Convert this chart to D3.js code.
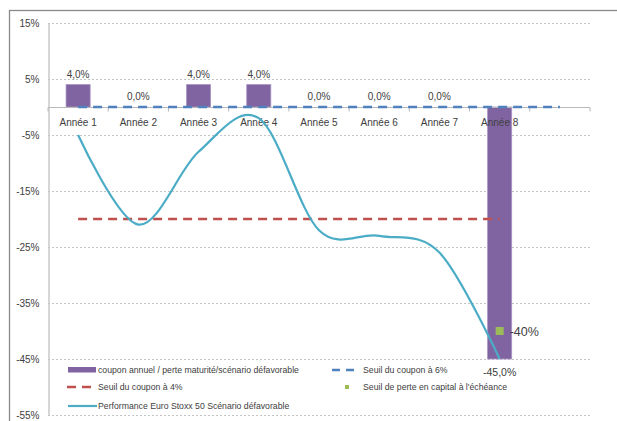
<!DOCTYPE html>
<html>
<head>
<meta charset="utf-8">
<script src="https://cdn.jsdelivr.net/npm/d3@7"></script>
<style>
  body { margin: 0; background: #fff; }
  svg text { font-family: "Liberation Sans", Arial, sans-serif; fill: #404040; }
</style>
</head>
<body>
<div id="chart"></div>
<script>
// categories (the 9th slot is empty in the original chart)
const categories = ["Année 1", "Année 2", "Année 3", "Année 4", "Année 5", "Année 6", "Année 7", "Année 8", ""];
const couponValues = [0.04, 0, 0.04, 0.04, 0, 0, 0, -0.45];
const seuil6Values = [0, 0, 0, 0, 0, 0, 0, 0, 0];
const seuil4Values = [-0.2, -0.2, -0.2, -0.2, -0.2, -0.2, -0.2, -0.2];
const perfValues = [-0.05, -0.21, -0.08, -0.02, -0.22, -0.23, -0.26, -0.45];
const perteValues = [null, null, null, null, null, null, null, -0.40];
const yTicks = [0.15, 0.05, -0.05, -0.15, -0.25, -0.35, -0.45, -0.55];
const legendNames = [
  "coupon annuel / perte maturité/scénario défavorable",
  "Seuil du coupon à 6%",
  "Seuil du coupon à 4%",
  "Seuil de perte en capital à l'échéance",
  "Performance Euro Stoxx 50 Scénario défavorable"
];

const fr = d3.formatLocale({decimal: ",", thousands: " ", grouping: [3], currency: ["", " €"], minus: "-"});
const pct0 = fr.format(".0%");
const pct1 = fr.format(".1%");

const W = 617, H = 421;
const svg = d3.select("#chart").append("svg")
    .attr("width", W)
    .attr("height", H);

// outer chart border (right/bottom edges fall outside the picture)
svg.append("rect")
    .attr("x", 9.5).attr("y", 10.5)
    .attr("width", 640).attr("height", 440)
    .attr("fill", "none")
    .attr("stroke", "#8a8a8a")
    .attr("stroke-width", 1.3);

const x = d3.scaleBand()
    .domain(d3.range(categories.length))
    .range([48, 590])
    .padding(0);
const bw = x.bandwidth();
const cx = i => x(i) + bw / 2;

const y = d3.scaleLinear()
    .domain([-0.55, 0.15])
    .range([415, 23]);

// gridlines
svg.append("g")
    .selectAll("line")
    .data(yTicks)
    .join("line")
    .attr("x1", 48).attr("x2", 590)
    .attr("y1", d => Math.round(y(d)) + 0.5)
    .attr("y2", d => Math.round(y(d)) + 0.5)
    .attr("stroke", "#c4c4c4")
    .attr("stroke-dasharray", "2,2");

// y axis
const yAxis = svg.append("g")
    .attr("transform", "translate(48.5,0)")
    .call(d3.axisLeft(y).tickValues(yTicks).tickFormat(pct0).tickSize(0).tickPadding(9));
yAxis.select(".domain").attr("stroke", "#c8c8c8").attr("stroke-width", 1.5);
yAxis.selectAll("text").style("font-size", "10px").attr("fill", "#404040");

// bars
svg.append("g")
    .selectAll("rect")
    .data(couponValues)
    .join("rect")
    .attr("x", (d, i) => x(i) + bw * 0.3)
    .attr("width", bw * 0.4)
    .attr("y", d => y(Math.max(0, d)))
    .attr("height", d => Math.abs(y(d) - y(0)))
    .attr("fill", "#8064A2")
    .attr("stroke", "#a995c4")
    .attr("stroke-width", 0.8);

// x axis at 0
const xAxis = svg.append("g")
    .attr("transform", `translate(0,${Math.round(y(0)) + 0.5})`);
xAxis.append("line")
    .attr("x1", 48).attr("x2", 590)
    .attr("stroke", "#b8b8b8").attr("stroke-width", 1.2);
xAxis.selectAll(".tk")
    .data(d3.range(categories.length + 1))
    .join("line")
    .attr("class", "tk")
    .attr("x1", i => i === categories.length ? 590 : x(i))
    .attr("x2", i => i === categories.length ? 590 : x(i))
    .attr("y1", 0).attr("y2", 4)
    .attr("stroke", "#b8b8b8");

// seuil 4% (red dashed)
svg.append("path")
    .datum(seuil4Values)
    .attr("fill", "none")
    .attr("stroke", "#C0504D")
    .attr("stroke-width", 2.6)
    .attr("stroke-dasharray", "9,6")
    .attr("d", d3.line().x((d, i) => cx(i)).y(d => y(d)));

// seuil 6% (blue dashed)
svg.append("path")
    .datum(seuil6Values)
    .attr("fill", "none")
    .attr("stroke", "#4F81BD")
    .attr("stroke-width", 2.6)
    .attr("stroke-dasharray", "9,6")
    .attr("d", d3.line().x((d, i) => cx(i)).y(d => y(d)));

// category labels
svg.append("g")
    .selectAll("text")
    .data(categories)
    .join("text")
    .attr("x", (d, i) => cx(i))
    .attr("y", y(0) + 19)
    .attr("text-anchor", "middle")
    .style("font-size", "10px")
    .text(d => d);

// performance curve
svg.append("path")
    .datum(perfValues)
    .attr("fill", "none")
    .attr("stroke", "#4BACC6")
    .attr("stroke-width", 2.2)
    .attr("d", d3.line().x((d, i) => cx(i)).y(d => y(d)).curve(d3.curveCatmullRom.alpha(0)));

// bar value labels
svg.append("g")
    .selectAll("text")
    .data(couponValues)
    .join("text")
    .attr("x", (d, i) => cx(i))
    .attr("y", d => d < 0 ? y(d) + 17 : y(d) - 7)
    .attr("text-anchor", "middle")
    .style("font-size", d => d < 0 ? "10.5px" : "10px")
    .text(d => pct1(d));

// perte en capital marker
const perte = perteValues.map((v, i) => ({v, i})).filter(d => d.v !== null);
svg.append("g")
    .selectAll("rect")
    .data(perte)
    .join("rect")
    .attr("x", d => cx(d.i) - 4)
    .attr("y", d => y(d.v) - 4)
    .attr("width", 8).attr("height", 8)
    .attr("fill", "#9BBB59");
svg.append("g")
    .selectAll("text")
    .data(perte)
    .join("text")
    .attr("x", d => cx(d.i) + 10)
    .attr("y", d => y(d.v) + 4.5)
    .style("font-size", "12.5px")
    .text(d => pct0(d.v));

// legend
const lg = svg.append("g").style("font-size", "8.7px");
function legendText(xp, yp, t) {
  lg.append("text").attr("x", xp).attr("y", yp + 3).text(t);
}
lg.append("rect").attr("x", 68).attr("y", 367).attr("width", 28).attr("height", 5.5).attr("fill", "#8064A2");
legendText(98, 370, legendNames[0]);
lg.append("line").attr("x1", 332).attr("x2", 356).attr("y1", 370).attr("y2", 370)
    .attr("stroke", "#4F81BD").attr("stroke-width", 2.6).attr("stroke-dasharray", "8,6");
legendText(363, 370, legendNames[1]);
lg.append("line").attr("x1", 67).attr("x2", 93).attr("y1", 387).attr("y2", 387)
    .attr("stroke", "#C0504D").attr("stroke-width", 2.6).attr("stroke-dasharray", "9,6");
legendText(98, 387, legendNames[2]);
lg.append("rect").attr("x", 345).attr("y", 385).attr("width", 4).attr("height", 4).attr("fill", "#9BBB59");
legendText(363, 387, legendNames[3]);
lg.append("line").attr("x1", 68).attr("x2", 97).attr("y1", 406).attr("y2", 406)
    .attr("stroke", "#4BACC6").attr("stroke-width", 2.2);
legendText(98, 406, legendNames[4]);
</script>
</body>
</html>
